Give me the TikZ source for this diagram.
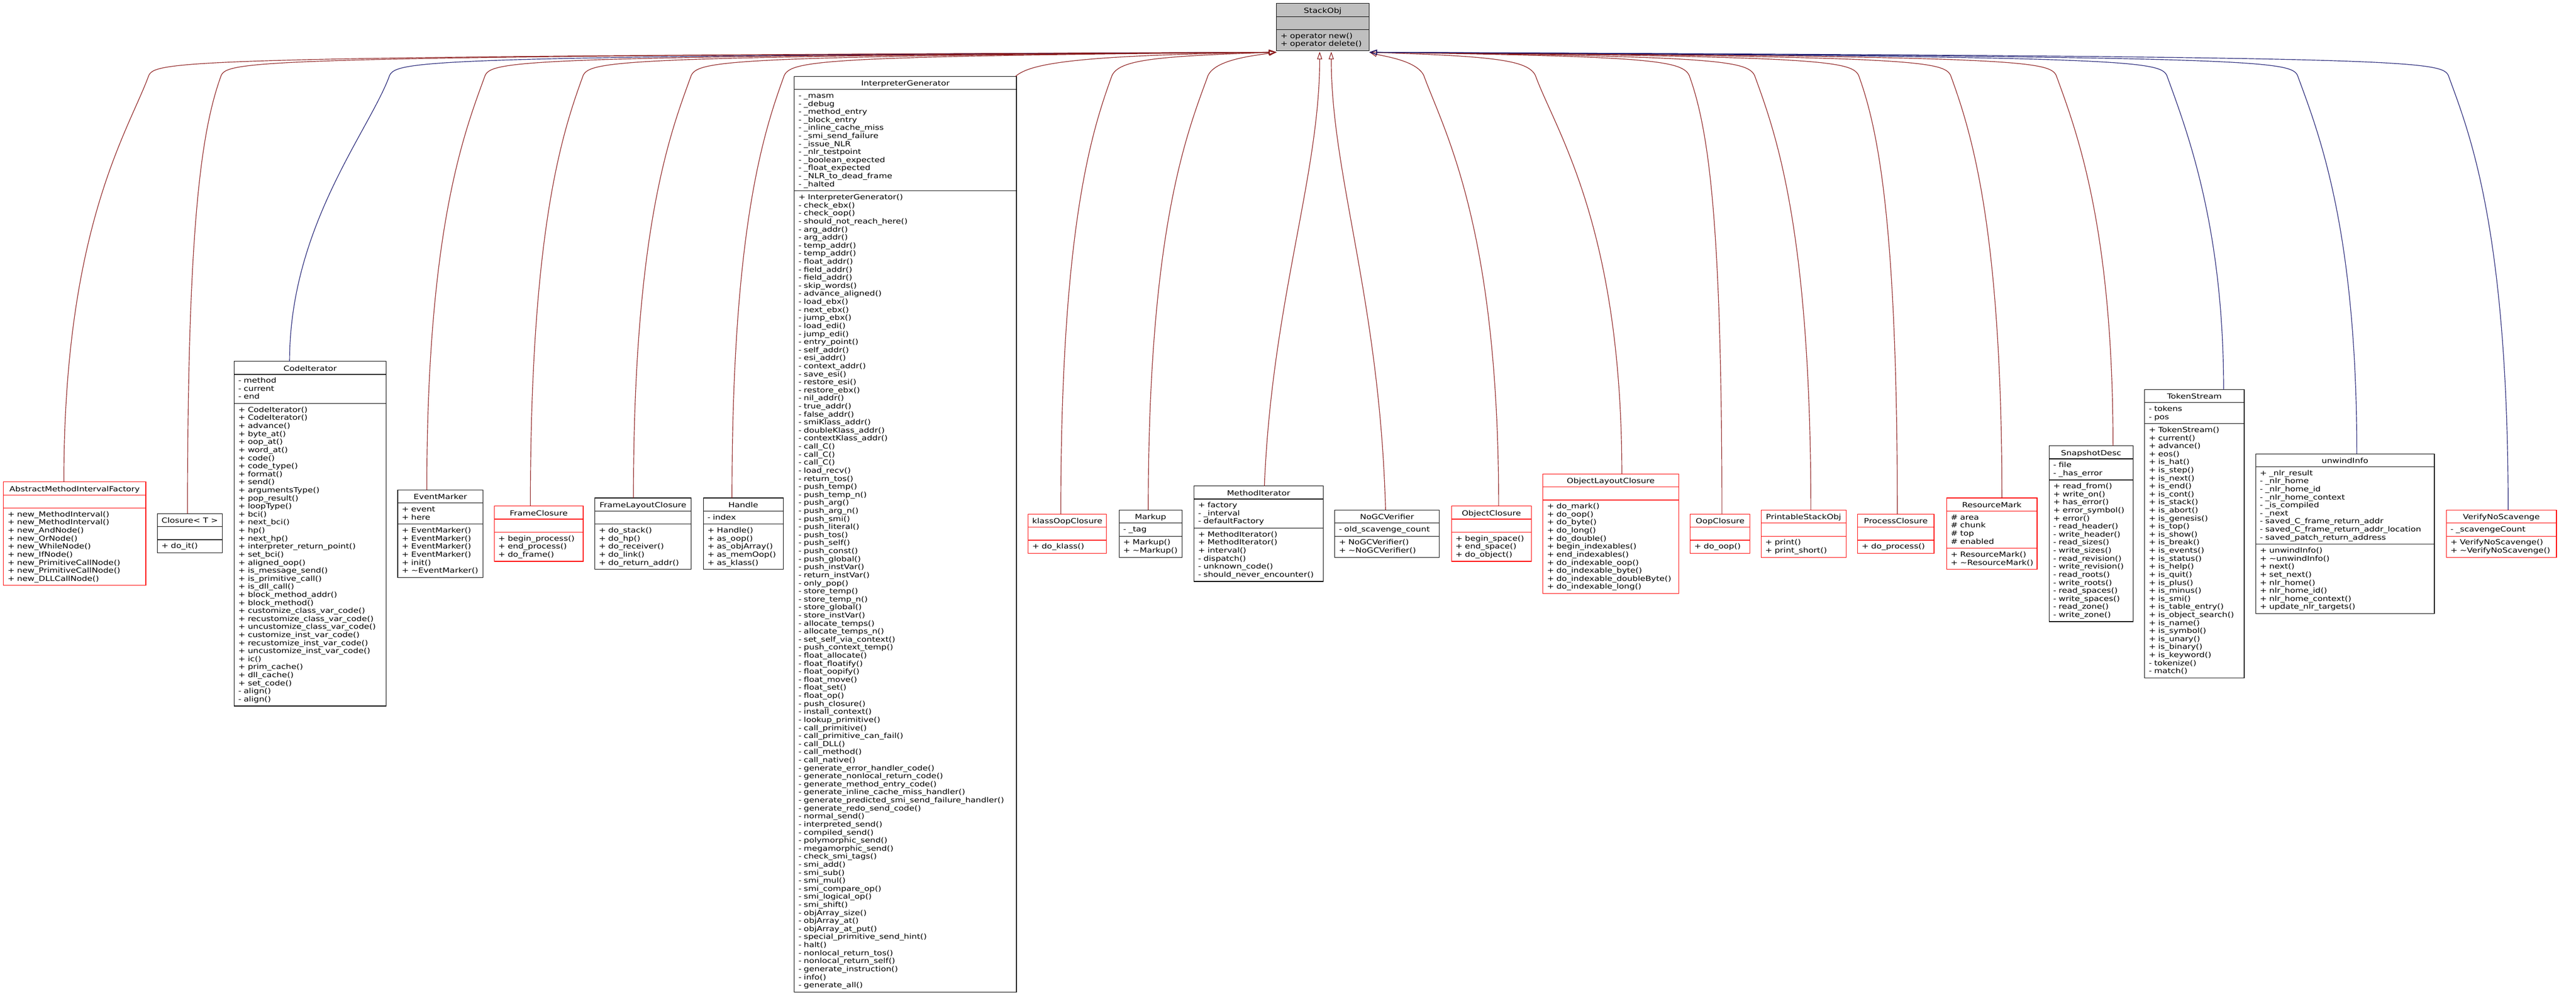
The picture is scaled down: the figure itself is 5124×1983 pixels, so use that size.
\documentclass[tikz,border=0pt]{standalone}
\usepackage{fontspec}
\setmainfont{DejaVu Sans}[FakeStretch=1.2]
\usetikzlibrary{arrows.meta}
\definecolor{edgered}{RGB}{139,26,26}
\definecolor{edgeblue}{RGB}{25,25,112}
\definecolor{stackgray}{RGB}{191,191,191}
\tikzset{
 blackbox/.style={draw=black,line width=1.3pt},
 redbox/.style={draw=red,line width=1.3pt},
 graybox/.style={draw=black,fill=stackgray,line width=1.3pt},
 cltitle/.style={anchor=base,inner sep=0pt,font=\fontsize{14}{16}\selectfont},
 cllist/.style={anchor=north west,inner sep=0pt,text width=600pt,align=left,font=\fontsize{14}{16}\selectfont,execute at begin node=\rule{0pt}{12pt}},
 inhred/.style={draw=edgered,line width=1.2pt,-{Triangle[open,length=15pt,width=10pt]}},
 inhblue/.style={draw=edgeblue,line width=1.2pt,-{Triangle[open,length=15pt,width=10pt]}},
}
\newcommand\umlclass[8]{%
 \pgfmathsetmacro\ha{(#7==0)?26:(#7*16+10)}%
 \pgfmathsetmacro\hm{(#8==0)?26:(#8*16+10)}%
 \pgfmathsetmacro\yb{#3+26}%
 \pgfmathsetmacro\yc{\yb+\ha}%
 \pgfmathsetmacro\yd{\yc+\hm}%
 \pgfmathsetmacro\xr{#2+#4}%
 \pgfmathsetmacro\xm{#2+#4/2}%
 \draw[#5] (#2,#3) rectangle (\xr,\yd);
 \draw[#5] (#2,\yb) -- (\xr,\yb);
 \draw[#5] (#2,\yc) -- (\xr,\yc);
 \node[cltitle] (#1) at (\xm,{#3+19}) {#6};
 \ifnum#7>0 \node[cllist] at ({#2+8},{\yb+5}) {\A};\fi
 \ifnum#8>0 \node[cllist] at ({#2+8},{\yc+5}) {\M};\fi
}
% edge: style, name, attach x, attach y, knee x, target, sign
\newcommand\inh[7]{%
 \coordinate (#2-a) at (#3,#4);
 \draw[#1] (#2-a) .. controls (#3,450) and ({#5-(#7)*40},260) .. (#5,150)
   .. controls ({#5+(#7)*15},120) and ({#5+(#7)*80},112) .. (#6);
}
\begin{document}
\begin{tikzpicture}[x=1pt,y=-1pt]
\useasboundingbox (0,0) rectangle (5124,1983);

\def\A{}\def\M{+ operator new()\\+ operator delete()}
\umlclass{stackobj}{2539}{7}{184}{graybox}{StackObj}{0}{2}
\coordinate (SL) at (2539,104);
\coordinate (SR) at (2724,104);
\coordinate (SM1) at (2625,103);
\coordinate (SM2) at (2648,103);

\def\A{}\def\M{+ new\_MethodInterval()\\+ new\_MethodInterval()\\+ new\_AndNode()\\+ new\_OrNode()\\+ new\_WhileNode()\\+ new\_IfNode()\\+ new\_PrimitiveCallNode()\\+ new\_PrimitiveCallNode()\\+ new\_DLLCallNode()}
\umlclass{amif}{7}{959}{283}{redbox}{AbstractMethodIntervalFactory}{0}{9}

\def\A{}\def\M{+ do\_it()}
\umlclass{closure}{313}{1022}{129}{blackbox}{Closure< T >}{0}{1}

\def\A{- method\\- current\\- end}
\def\M{+ CodeIterator()\\+ CodeIterator()\\+ advance()\\+ byte\_at()\\+ oop\_at()\\+ word\_at()\\+ code()\\+ code\_type()\\+ format()\\+ send()\\+ argumentsType()\\+ pop\_result()\\+ loopType()\\+ bci()\\+ next\_bci()\\+ hp()\\+ next\_hp()\\+ interpreter\_return\_point()\\+ set\_bci()\\+ aligned\_oop()\\+ is\_message\_send()\\+ is\_primitive\_call()\\+ is\_dll\_call()\\+ block\_method\_addr()\\+ block\_method()\\+ customize\_class\_var\_code()\\+ recustomize\_class\_var\_code()\\+ uncustomize\_class\_var\_code()\\+ customize\_inst\_var\_code()\\+ recustomize\_inst\_var\_code()\\+ uncustomize\_inst\_var\_code()\\+ ic()\\+ prim\_cache()\\+ dll\_cache()\\+ set\_code()\\- align()\\- align()}
\umlclass{codeit}{466}{719}{302}{blackbox}{CodeIterator}{3}{37}

\def\A{+ event\\+ here}
\def\M{+ EventMarker()\\+ EventMarker()\\+ EventMarker()\\+ EventMarker()\\+ init()\\+ \textasciitilde EventMarker()}
\umlclass{eventm}{791}{975}{170}{blackbox}{EventMarker}{2}{6}

\def\A{}\def\M{+ begin\_process()\\+ end\_process()\\+ do\_frame()}
\umlclass{framec}{983}{1007}{177}{redbox}{FrameClosure}{0}{3}

\def\A{}\def\M{+ do\_stack()\\+ do\_hp()\\+ do\_receiver()\\+ do\_link()\\+ do\_return\_addr()}
\umlclass{flc}{1183}{991}{192}{blackbox}{FrameLayoutClosure}{0}{5}

\def\A{- index}\def\M{+ Handle()\\+ as\_oop()\\+ as\_objArray()\\+ as\_memOop()\\+ as\_klass()}
\umlclass{handle}{1399}{991}{159}{blackbox}{Handle}{1}{5}

\def\A{- \_masm\\- \_debug\\- \_method\_entry\\- \_block\_entry\\- \_inline\_cache\_miss\\- \_smi\_send\_failure\\- \_issue\_NLR\\- \_nlr\_testpoint\\- \_boolean\_expected\\- \_float\_expected\\- \_NLR\_to\_dead\_frame\\- \_halted}
\def\M{+ InterpreterGenerator()\\- check\_ebx()\\- check\_oop()\\- should\_not\_reach\_here()\\- arg\_addr()\\- arg\_addr()\\- temp\_addr()\\- temp\_addr()\\- float\_addr()\\- field\_addr()\\- field\_addr()\\- skip\_words()\\- advance\_aligned()\\- load\_ebx()\\- next\_ebx()\\- jump\_ebx()\\- load\_edi()\\- jump\_edi()\\- entry\_point()\\- self\_addr()\\- esi\_addr()\\- context\_addr()\\- save\_esi()\\- restore\_esi()\\- restore\_ebx()\\- nil\_addr()\\- true\_addr()\\- false\_addr()\\- smiKlass\_addr()\\- doubleKlass\_addr()\\- contextKlass\_addr()\\- call\_C()\\- call\_C()\\- call\_C()\\- load\_recv()\\- return\_tos()\\- push\_temp()\\- push\_temp\_n()\\- push\_arg()\\- push\_arg\_n()\\- push\_smi()\\- push\_literal()\\- push\_tos()\\- push\_self()\\- push\_const()\\- push\_global()\\- push\_instVar()\\- return\_instVar()\\- only\_pop()\\- store\_temp()\\- store\_temp\_n()\\- store\_global()\\- store\_instVar()\\- allocate\_temps()\\- allocate\_temps\_n()\\- set\_self\_via\_context()\\- push\_context\_temp()\\- float\_allocate()\\- float\_floatify()\\- float\_oopify()\\- float\_move()\\- float\_set()\\- float\_op()\\- push\_closure()\\- install\_context()\\- lookup\_primitive()\\- call\_primitive()\\- call\_primitive\_can\_fail()\\- call\_DLL()\\- call\_method()\\- call\_native()\\- generate\_error\_handler\_code()\\- generate\_nonlocal\_return\_code()\\- generate\_method\_entry\_code()\\- generate\_inline\_cache\_miss\_handler()\\- generate\_predicted\_smi\_send\_failure\_handler()\\- generate\_redo\_send\_code()\\- normal\_send()\\- interpreted\_send()\\- compiled\_send()\\- polymorphic\_send()\\- megamorphic\_send()\\- check\_smi\_tags()\\- smi\_add()\\- smi\_sub()\\- smi\_mul()\\- smi\_compare\_op()\\- smi\_logical\_op()\\- smi\_shift()\\- objArray\_size()\\- objArray\_at()\\- objArray\_at\_put()\\- special\_primitive\_send\_hint()\\- halt()\\- nonlocal\_return\_tos()\\- nonlocal\_return\_self()\\- generate\_instruction()\\- info()\\- generate\_all()}
\umlclass{interp}{1580}{152}{442}{blackbox}{InterpreterGenerator}{12}{99}

\def\A{}\def\M{+ do\_klass()}
\umlclass{klassoop}{2045}{1023}{156}{redbox}{klassOopClosure}{0}{1}

\def\A{- \_tag}\def\M{+ Markup()\\+ \textasciitilde Markup()}
\umlclass{markup}{2226}{1015}{125}{blackbox}{Markup}{1}{2}

\def\A{+ factory\\- \_interval\\- defaultFactory}
\def\M{+ MethodIterator()\\+ MethodIterator()\\+ interval()\\- dispatch()\\- unknown\_code()\\- should\_never\_encounter()}
\umlclass{methodit}{2375}{967}{257}{blackbox}{MethodIterator}{3}{6}

\def\A{- old\_scavenge\_count}\def\M{+ NoGCVerifier()\\+ \textasciitilde NoGCVerifier()}
\umlclass{nogc}{2655}{1015}{208}{blackbox}{NoGCVerifier}{1}{2}

\def\A{}\def\M{+ begin\_space()\\+ end\_space()\\+ do\_object()}
\umlclass{objc}{2887}{1007}{159}{redbox}{ObjectClosure}{0}{3}

\def\A{}\def\M{+ do\_mark()\\+ do\_oop()\\+ do\_byte()\\+ do\_long()\\+ do\_double()\\+ begin\_indexables()\\+ end\_indexables()\\+ do\_indexable\_oop()\\+ do\_indexable\_byte()\\+ do\_indexable\_doubleByte()\\+ do\_indexable\_long()}
\umlclass{olc}{3069}{943}{270}{redbox}{ObjectLayoutClosure}{0}{11}

\def\A{}\def\M{+ do\_oop()}
\umlclass{oopc}{3362}{1023}{119}{redbox}{OopClosure}{0}{1}

\def\A{}\def\M{+ print()\\+ print\_short()}
\umlclass{pso}{3503}{1015}{169}{redbox}{PrintableStackObj}{0}{2}

\def\A{}\def\M{+ do\_process()}
\umlclass{procc}{3695}{1023}{152}{redbox}{ProcessClosure}{0}{1}

\def\A{\# area\\\# chunk\\\# top\\\# enabled}\def\M{+ ResourceMark()\\+ \textasciitilde ResourceMark()}
\umlclass{resm}{3872}{991}{180}{redbox}{ResourceMark}{4}{2}

\def\A{- file\\- \_has\_error}
\def\M{+ read\_from()\\+ write\_on()\\+ has\_error()\\+ error\_symbol()\\+ error()\\- read\_header()\\- write\_header()\\- read\_sizes()\\- write\_sizes()\\- read\_revision()\\- write\_revision()\\- read\_roots()\\- write\_roots()\\- read\_spaces()\\- write\_spaces()\\- read\_zone()\\- write\_zone()}
\umlclass{snap}{4076}{887}{167}{blackbox}{SnapshotDesc}{2}{17}

\def\A{- tokens\\- pos}
\def\M{+ TokenStream()\\+ current()\\+ advance()\\+ eos()\\+ is\_hat()\\+ is\_step()\\+ is\_next()\\+ is\_end()\\+ is\_cont()\\+ is\_stack()\\+ is\_abort()\\+ is\_genesis()\\+ is\_top()\\+ is\_show()\\+ is\_break()\\+ is\_events()\\+ is\_status()\\+ is\_help()\\+ is\_quit()\\+ is\_plus()\\+ is\_minus()\\+ is\_smi()\\+ is\_table\_entry()\\+ is\_object\_search()\\+ is\_name()\\+ is\_symbol()\\+ is\_unary()\\+ is\_binary()\\+ is\_keyword()\\- tokenize()\\- match()}
\umlclass{tokens}{4266}{775}{198}{blackbox}{TokenStream}{2}{31}

\def\A{+ \_nlr\_result\\- \_nlr\_home\\- \_nlr\_home\_id\\- \_nlr\_home\_context\\- \_is\_compiled\\- \_next\\- saved\_C\_frame\_return\_addr\\- saved\_C\_frame\_return\_addr\_location\\- saved\_patch\_return\_address}
\def\M{+ unwindInfo()\\+ \textasciitilde unwindInfo()\\+ next()\\+ set\_next()\\+ nlr\_home()\\+ nlr\_home\_id()\\+ nlr\_home\_context()\\+ update\_nlr\_targets()}
\umlclass{unwind}{4487}{903}{355}{blackbox}{unwindInfo}{9}{8}

\def\A{- \_scavengeCount}\def\M{+ VerifyNoScavenge()\\+ \textasciitilde VerifyNoScavenge()}
\umlclass{vns}{4866}{1015}{219}{redbox}{VerifyNoScavenge}{1}{2}

% inheritance edges
\inh{inhred}{amif}{127}{959}{296}{SL}{1}
\inh{inhred}{closure}{373}{1022}{440}{SL}{1}
\inh{inhblue}{codeit}{576}{719}{775}{SL}{1}
\inh{inhred}{eventm}{849}{975}{965}{SL}{1}
\inh{inhred}{framec}{1055}{1007}{1160}{SL}{1}
\inh{inhred}{flc}{1260}{991}{1375}{SL}{1}
\inh{inhred}{handle}{1456}{991}{1560}{SL}{1}
\coordinate (interp-a) at (2020,152);
\draw[inhred] (interp-a) .. controls (2050,125) and (2150,110) .. (SL);
\inh{inhred}{klassoop}{2110}{1023}{2212}{SL}{1}
\inh{inhred}{markup}{2284}{1015}{2403}{SL}{1}
\coordinate (methodit-a) at (2515,967);
\draw[inhred] (methodit-a) .. controls (2530,600) and (2625,350) .. (SM1);
\coordinate (nogc-a) at (2756,1015);
\draw[inhred] (nogc-a) .. controls (2745,600) and (2648,350) .. (SM2);
\inh{inhred}{objc}{2981}{1007}{2832}{SR}{-1}
\inh{inhred}{olc}{3226}{943}{3054}{SR}{-1}
\inh{inhred}{oopc}{3425}{1023}{3360}{SR}{-1}
\inh{inhred}{pso}{3602}{1015}{3490}{SR}{-1}
\inh{inhred}{procc}{3774}{1023}{3697}{SR}{-1}
\inh{inhred}{resm}{3982}{991}{3880}{SR}{-1}
\inh{inhred}{snap}{4203}{887}{4090}{SR}{-1}
\inh{inhblue}{tokens}{4423}{775}{4310}{SR}{-1}
\inh{inhblue}{unwind}{4688}{903}{4570}{SR}{-1}
\inh{inhblue}{vns}{4989}{1015}{4870}{SR}{-1}
\end{tikzpicture}
\end{document}
